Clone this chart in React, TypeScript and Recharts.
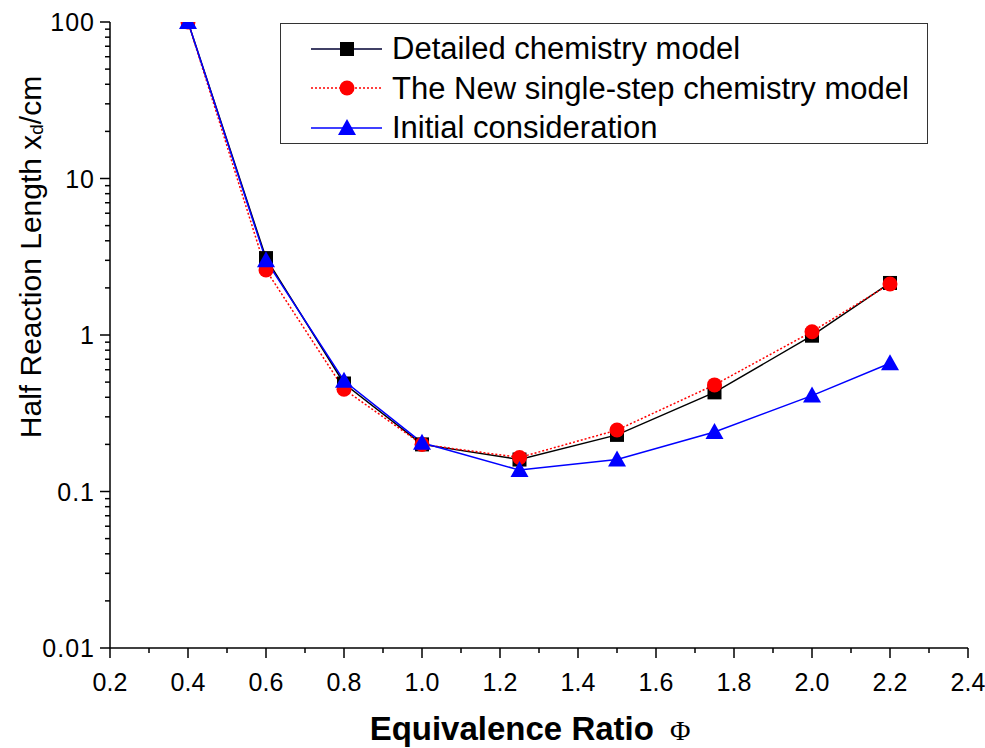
import { LineChart, Line, XAxis, YAxis, Legend, Label } from "recharts"

const phi = [0.4, 0.6, 0.8, 1.0, 1.25, 1.5, 1.75, 2.0, 2.2]
const detailed = [100, 3.1, 0.49, 0.2, 0.16, 0.23, 0.43, 0.99, 2.15]
const singleStep = [100, 2.6, 0.45, 0.2, 0.165, 0.247, 0.48, 1.05, 2.12]
const initial = [100, 3.0, 0.51, 0.205, 0.137, 0.16, 0.24, 0.41, 0.66]

const xMajor = [0.2, 0.4, 0.6, 0.8, 1.0, 1.2, 1.4, 1.6, 1.8, 2.0, 2.2, 2.4]
const xMinor = [0.3, 0.5, 0.7, 0.9, 1.1, 1.3, 1.5, 1.7, 1.9, 2.1, 2.3]
const yMajor = [0.01, 0.1, 1, 10, 100]
const yMinorSteps = [2, 3, 4, 5, 6, 7, 8, 9]

const seriesNames = [
  "Detailed chemistry model",
  "The New single-step chemistry model",
  "Initial consideration",
]

const data = phi.map((p, i) => ({
  phi: p,
  detailed: detailed[i],
  single: singleStep[i],
  initial: initial[i],
}))

const xTicks = [...xMajor, ...xMinor].sort((a, b) => a - b)
const yTicks = [
  ...yMajor,
  ...yMajor.slice(0, -1).flatMap((d) => yMinorSteps.map((m) => m * d)),
].sort((a, b) => a - b)

const FONT = "'Liberation Sans', Arial, sans-serif"

/* ── ticks ── */

// eslint-disable-next-line @typescript-eslint/no-explicit-any
function XTick({ x = 0, y = 0, payload }: any) {
  const major = xMajor.includes(payload.value)
  return (
    <g>
      <line x1={x} x2={x} y1={y} y2={y + (major ? 10 : 5)} stroke="#000" strokeWidth={1.5} />
      {major && (
        <text x={x} y={y + 43} textAnchor="middle" fontFamily={FONT} fontSize={25} fill="#000">
          {payload.value.toFixed(1)}
        </text>
      )}
    </g>
  )
}

// eslint-disable-next-line @typescript-eslint/no-explicit-any
function YTick({ x = 0, y = 0, payload }: any) {
  const major = yMajor.includes(payload.value)
  return (
    <g>
      <line x1={x - (major ? 10 : 5)} x2={x} y1={y} y2={y} stroke="#000" strokeWidth={1.5} />
      {major && (
        <text x={x - 15} y={y + 9} textAnchor="end" fontFamily={FONT} fontSize={25} letterSpacing={1} fill="#000">
          {String(payload.value)}
        </text>
      )}
    </g>
  )
}

/* ── markers ── */

interface DotProps {
  cx?: number
  cy?: number
}

function SquareDot({ cx = 0, cy = 0 }: DotProps) {
  return <rect x={cx - 7} y={cy - 7} width={14} height={14} fill="#000" />
}

function CircleDot({ cx = 0, cy = 0 }: DotProps) {
  return <circle cx={cx} cy={cy} r={7.5} fill="#ff0000" />
}

function TriangleDot({ cx = 0, cy = 0 }: DotProps) {
  return <path d={`M ${cx},${cy - 9} L ${cx + 9},${cy + 7} L ${cx - 9},${cy + 7} Z`} fill="#0000ff" />
}

/* ── legend ── */

const legendStyles = [
  { stroke: "#000033", dash: undefined, Marker: SquareDot },
  { stroke: "#ff0000", dash: "2 2", Marker: CircleDot },
  { stroke: "#0000ff", dash: undefined, Marker: TriangleDot },
]

function LegendBox() {
  return (
    <div
      style={{
        boxSizing: "border-box",
        width: 648,
        height: 121,
        border: "1.5px solid #333",
        background: "#fff",
        paddingTop: 5,
        fontFamily: FONT,
        fontSize: 31,
        color: "#000",
      }}
    >
      {seriesNames.map((name, i) => {
        const { stroke, dash, Marker } = legendStyles[i]
        return (
          <div key={name} style={{ display: "flex", alignItems: "center", height: 39.5 }}>
            <svg width={111} height={30} style={{ flexShrink: 0 }}>
              <line x1={30} x2={101} y1={15} y2={15} stroke={stroke} strokeWidth={1.5} strokeDasharray={dash} />
              <Marker cx={66} cy={15} />
            </svg>
            <span style={{ whiteSpace: "nowrap", lineHeight: 1 }}>{name}</span>
          </div>
        )
      })}
    </div>
  )
}

/* ── axis titles ── */

// eslint-disable-next-line @typescript-eslint/no-explicit-any
function YTitle({ viewBox }: any) {
  const cx = 30
  const cy = viewBox.y + viewBox.height / 2 - 78
  return (
    <text
      x={cx}
      y={cy}
      transform={`rotate(-90 ${cx} ${cy})`}
      textAnchor="middle"
      dominantBaseline="central"
      fontFamily={FONT}
      fontSize={30}
      fill="#000"
    >
      Half Reaction Length x
      <tspan fontSize={19} dy={6}>d</tspan>
      <tspan dy={-6}>/cm</tspan>
    </text>
  )
}

// eslint-disable-next-line @typescript-eslint/no-explicit-any
function XTitle({ viewBox }: any) {
  const cx = viewBox.x + viewBox.width / 2 - 9
  return (
    <text x={cx} y={740} textAnchor="middle" fill="#000">
      <tspan fontFamily={FONT} fontWeight="bold" fontSize={33}>Equivalence Ratio</tspan>
      <tspan fontFamily="'Liberation Serif', serif" fontSize={28} dx={16}>Φ</tspan>
    </text>
  )
}

export default function App() {
  return (
    <div style={{ position: "absolute", left: 0, top: 0, width: 985, height: 748, background: "#fff" }}>
      <LineChart
        width={985}
        height={748}
        data={data}
        margin={{ top: 22, right: 17, left: 0, bottom: 0 }}
      >
        <XAxis
          dataKey="phi"
          type="number"
          domain={[0.2, 2.4]}
          ticks={xTicks}
          interval={0}
          tickSize={0}
          tickMargin={0}
          tickLine={false}
          tick={<XTick />}
          height={100}
          axisLine={{ stroke: "#000", strokeWidth: 1.5 }}
          allowDataOverflow
        >
          <Label content={<XTitle />} />
        </XAxis>
        <YAxis
          type="number"
          scale="log"
          domain={[0.01, 100]}
          ticks={yTicks}
          interval={0}
          tickSize={0}
          tickMargin={0}
          tickLine={false}
          tick={<YTick />}
          width={110}
          axisLine={{ stroke: "#000", strokeWidth: 1.5 }}
          allowDataOverflow
        >
          <Label content={<YTitle />} />
        </YAxis>
        <Legend
          layout="vertical"
          align="center"
          verticalAlign="middle"
          content={<LegendBox />}
          wrapperStyle={{ left: 280, top: 23, width: 648, height: 121 }}
        />
        <Line
          dataKey="detailed"
          name={seriesNames[0]}
          stroke="#000"
          strokeWidth={1.5}
          dot={<SquareDot />}
          activeDot={false}
          isAnimationActive={false}
        />
        <Line
          dataKey="single"
          name={seriesNames[1]}
          stroke="#ff0000"
          strokeWidth={1.5}
          strokeDasharray="2 2"
          dot={<CircleDot />}
          activeDot={false}
          isAnimationActive={false}
        />
        <Line
          dataKey="initial"
          name={seriesNames[2]}
          stroke="#0000ff"
          strokeWidth={1.5}
          dot={<TriangleDot />}
          activeDot={false}
          isAnimationActive={false}
        />
      </LineChart>
    </div>
  )
}
